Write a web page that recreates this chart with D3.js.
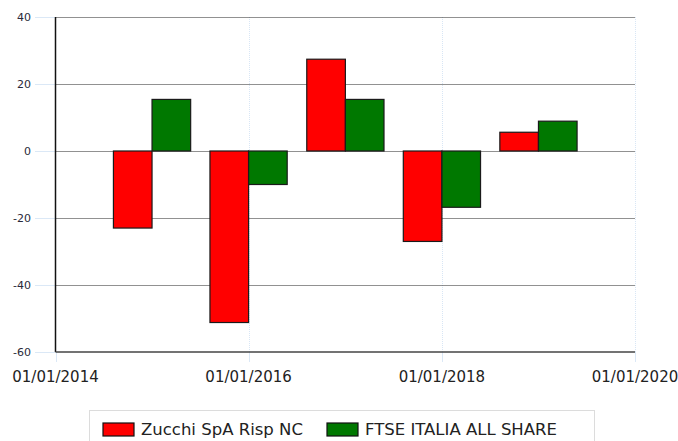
<!DOCTYPE html>
<html>
<head>
<meta charset="utf-8">
<script src="https://cdn.jsdelivr.net/npm/d3@7"></script>
<style>
  body { margin: 0; background: #fff; }
  svg { display: block; font-family: "DejaVu Sans", Verdana, sans-serif; }
</style>
</head>
<body>
<div id="chart"></div>
<script>
// data
const years = ["2015-01-01", "2016-01-01", "2017-01-01", "2018-01-01", "2019-01-01"];
const zucchi = [-23.0, -51.2, 27.4, -27.0, 5.6];
const ftse = [15.4, -10.0, 15.4, -16.8, 8.9];
const seriesNames = ["Zucchi SpA Risp NC", "FTSE ITALIA ALL SHARE"];
const seriesColors = ["#ff0000", "#007800"];
const xTicks = ["2014-01-01", "2016-01-01", "2018-01-01", "2020-01-01"];
const yTicks = [40, 20, 0, -20, -40, -60];

const width = 678, height = 441;
const plot = { left: 55.5, right: 635, top: 17, bottom: 352 };
const parse = d3.timeParse("%Y-%m-%d");
const fmt = d3.timeFormat("%d/%m/%Y");

const svg = d3.select("#chart").append("svg")
  .attr("width", width)
  .attr("height", height);

const x = d3.scaleTime()
  .domain([parse("2014-01-01"), parse("2020-01-01")])
  .range([plot.left, plot.right]);
const y = d3.scaleLinear()
  .domain([-60, 40])
  .range([plot.bottom, plot.top]);

// vertical grid (light blue, dotted)
svg.append("g")
  .selectAll("line")
  .data(xTicks.slice(1))
  .enter().append("line")
  .attr("x1", d => Math.round(x(parse(d))) + 0.5)
  .attr("x2", d => Math.round(x(parse(d))) + 0.5)
  .attr("y1", plot.top)
  .attr("y2", plot.bottom)
  .attr("stroke", "#d8e6f5")
  .attr("stroke-dasharray", "1,1");

// x tick marks below the axis
svg.append("g")
  .selectAll("line")
  .data(xTicks)
  .enter().append("line")
  .attr("x1", d => Math.round(x(parse(d))) + 0.5)
  .attr("x2", d => Math.round(x(parse(d))) + 0.5)
  .attr("y1", plot.bottom)
  .attr("y2", plot.bottom + 10)
  .attr("stroke", "#dbe8f6");

// horizontal grid (dark, dotted) + light blue ticks left of axis
const yg = svg.append("g");
yg.selectAll(".grid")
  .data(yTicks.filter(d => d > -60))
  .enter().append("line")
  .attr("class", "grid")
  .attr("x1", plot.left)
  .attr("x2", plot.right)
  .attr("y1", d => Math.round(y(d)) + 0.5)
  .attr("y2", d => Math.round(y(d)) + 0.5)
  .attr("stroke", "#222")
  .attr("stroke-dasharray", "1,1");
yg.selectAll(".tick")
  .data(yTicks)
  .enter().append("line")
  .attr("class", "tick")
  .attr("x1", 35)
  .attr("x2", plot.left)
  .attr("y1", d => Math.round(y(d)) + 0.5)
  .attr("y2", d => Math.round(y(d)) + 0.5)
  .attr("stroke", "#dbe8f6");
yg.selectAll("text")
  .data(yTicks)
  .enter().append("text")
  .attr("x", 31)
  .attr("y", d => y(d) + 4)
  .attr("text-anchor", "end")
  .style("font-size", "11px")
  .attr("fill", "#2a2a3a")
  .text(d => d);

// bars
const yearPx = x(parse("2015-01-01")) - x(parse("2014-01-01"));
const barW = yearPx * 0.4;
const bars = svg.append("g");
[zucchi, ftse].forEach((vals, s) => {
  bars.selectAll(".bar" + s)
    .data(vals)
    .enter().append("rect")
    .attr("class", "bar" + s)
    .attr("x", (d, i) => x(parse(years[i])) + (s === 0 ? -barW : 0))
    .attr("y", d => y(Math.max(0, d)))
    .attr("width", barW)
    .attr("height", d => Math.abs(y(d) - y(0)))
    .attr("fill", seriesColors[s])
    .attr("stroke", "#1a1a1a")
    .attr("stroke-width", 1.2);
});

// axes lines
svg.append("line")
  .attr("x1", plot.left).attr("x2", plot.left)
  .attr("y1", plot.top).attr("y2", plot.bottom)
  .attr("stroke", "#111").attr("stroke-width", 1.5);
svg.append("line")
  .attr("x1", plot.left).attr("x2", plot.right)
  .attr("y1", plot.bottom).attr("y2", plot.bottom)
  .attr("stroke", "#444").attr("stroke-width", 1.5);

// x labels
svg.append("g")
  .selectAll("text")
  .data(xTicks)
  .enter().append("text")
  .attr("x", d => x(parse(d)))
  .attr("y", 382)
  .attr("text-anchor", "middle")
  .style("font-size", "15px")
  .attr("fill", "#222")
  .text(d => fmt(parse(d)));

// legend
const legend = svg.append("g");
legend.append("rect")
  .attr("x", 89.5).attr("y", 410.5)
  .attr("width", 505).attr("height", 40)
  .attr("fill", "#fff")
  .attr("stroke", "#dcdcdc");
const legendX = [103, 327];
seriesNames.forEach((name, i) => {
  legend.append("rect")
    .attr("x", legendX[i]).attr("y", 423)
    .attr("width", 31).attr("height", 13)
    .attr("fill", seriesColors[i])
    .attr("stroke", "#111")
    .attr("stroke-width", 1.2);
  legend.append("text")
    .attr("x", legendX[i] + 38).attr("y", 435)
    .style("font-size", "16.5px")
    .attr("fill", "#222")
    .text(name);
});
</script>
</body>
</html>
